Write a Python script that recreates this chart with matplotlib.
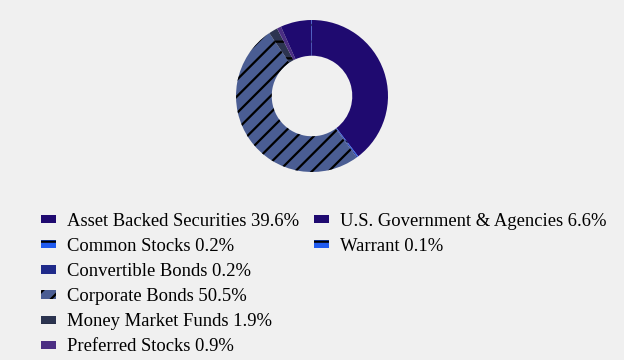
import matplotlib.pyplot as plt
from matplotlib.patches import Patch

plt.rcParams['font.family'] = ['Liberation Serif', 'DejaVu Serif']
plt.rcParams['hatch.color'] = 'black'
plt.rcParams['hatch.linewidth'] = 1.6

# slices, clockwise from the top
labels = ['Asset Backed Securities', 'Common Stocks', 'Convertible Bonds',
          'Corporate Bonds', 'Money Market Funds', 'Preferred Stocks',
          'U.S. Government & Agencies', 'Warrant']
values = [39.6, 0.2, 0.2, 50.5, 1.9, 0.9, 6.6, 0.1]
colors = ['#1f0a70', '#1f5af0', '#1f2a8a', '#4a5d93', '#2c3450', '#4b2e83',
          '#1f0a70', '#1f5af0']
hatches = ['', '-', 'v', '//', '-', '', '', '-']

fig = plt.figure(figsize=(6.24, 3.6), dpi=100)
fig.patch.set_facecolor('#f0f0f0')

ax = fig.add_axes([(312 - 76) / 624, 1 - (96 + 76) / 360, 152 / 624, 152 / 360])
wedges, _ = ax.pie(values, colors=colors, startangle=90, counterclock=False,
                   wedgeprops=dict(width=0.47, linewidth=0, edgecolor='black'))
for w, h in zip(wedges, hatches):
    if h:
        w.set_hatch(h)
ax.set_xlim(-1, 1)
ax.set_ylim(-1, 1)
ax.set_aspect('equal')

handles = []
for lab, v, c, h in zip(labels, values, colors, hatches):
    handles.append(Patch(facecolor=c, edgecolor='black', linewidth=0, hatch=h,
                         label=f'{lab} {v}%'))

common = dict(frameon=False, fontsize=13.4, handlelength=0.8, handleheight=0.3,
              handletextpad=0.6, labelspacing=0.435, borderpad=0, borderaxespad=0)
leg1 = fig.legend(handles=handles[:6], loc='upper left',
                  bbox_to_anchor=(41 / 624, 1 - 213 / 360), **common)
leg2 = fig.legend(handles=handles[6:], loc='upper left',
                  bbox_to_anchor=(314 / 624, 1 - 213 / 360), **common)

fig.savefig('out.png', dpi=100, facecolor=fig.get_facecolor())
